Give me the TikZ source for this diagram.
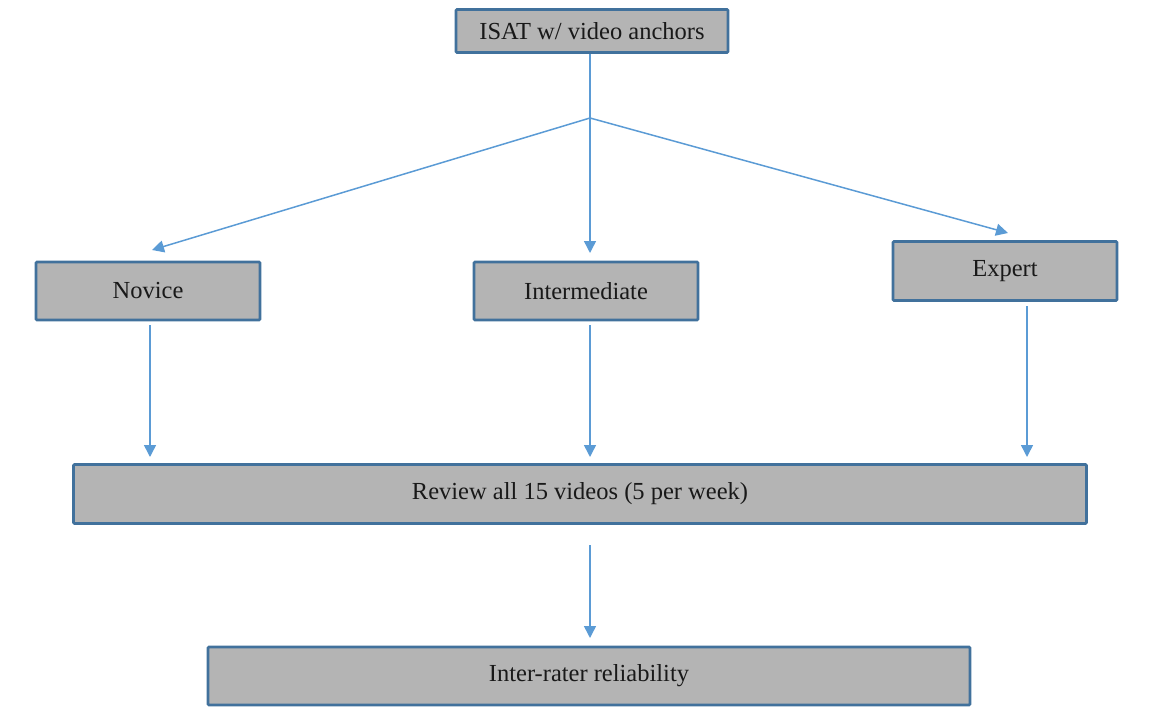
\documentclass[tikz,border=0pt]{standalone}
\usepackage{fontspec}
\setmainfont{Liberation Serif}
\usetikzlibrary{arrows.meta}
\definecolor{boxedge}{HTML}{41719C}
\definecolor{boxfill}{HTML}{B4B4B4}
\definecolor{linkblue}{HTML}{5B9BD5}
\begin{document}
\begin{tikzpicture}[x=1pt,y=-1pt,
  box/.style={draw=boxedge, line width=2.8pt, fill=boxfill, rounded corners=1pt,
    inner sep=0pt, font=\fontsize{24.5}{28}\selectfont, text=black!90},
  link/.style={draw=linkblue, line width=1.5pt, -{Triangle[length=12pt,width=12pt]}},
  plain/.style={draw=linkblue, line width=1.5pt}]
\useasboundingbox (0,0) rectangle (1154,717);
\node[box, minimum width=272pt, minimum height=43pt] (isat) at (592,31) {ISAT w/ video anchors};
\node[box, minimum width=224pt, minimum height=58pt] (nov) at (148,291) {Novice};
\node[box, minimum width=224pt, minimum height=58pt] (int) at (586,291) {Intermediate};
\node[box, minimum width=224pt, minimum height=59pt] (exp) at (1005,271) {Expert};
\node[box, minimum width=1013pt, minimum height=59pt] (rev) at (580,494) {Review all 15 videos (5 per week)};
\node[box, minimum width=762pt, minimum height=58pt] (irr) at (589,676) {Inter-rater reliability};
\coordinate (split) at (590,118);
\coordinate (tnov) at (152,250);
\coordinate (tint) at (590,253);
\coordinate (texp) at (1008,233);
\coordinate (snov) at (150,325);
\coordinate (sint) at (590,325);
\coordinate (sexp) at (1027,306);
\coordinate (enov) at (150,457);
\coordinate (eint) at (590,457);
\coordinate (eexp) at (1027,457);
\coordinate (srev) at (590,545);
\coordinate (eirr) at (590,638);
\draw[plain] (isat.south -| split) -- (split);
\draw[link] (split) -- (tnov);
\draw[link] (split) -- (tint);
\draw[link] (split) -- (texp);
\draw[link] (snov) -- (enov);
\draw[link] (sint) -- (eint);
\draw[link] (sexp) -- (eexp);
\draw[link] (srev) -- (eirr);
\end{tikzpicture}
\end{document}
